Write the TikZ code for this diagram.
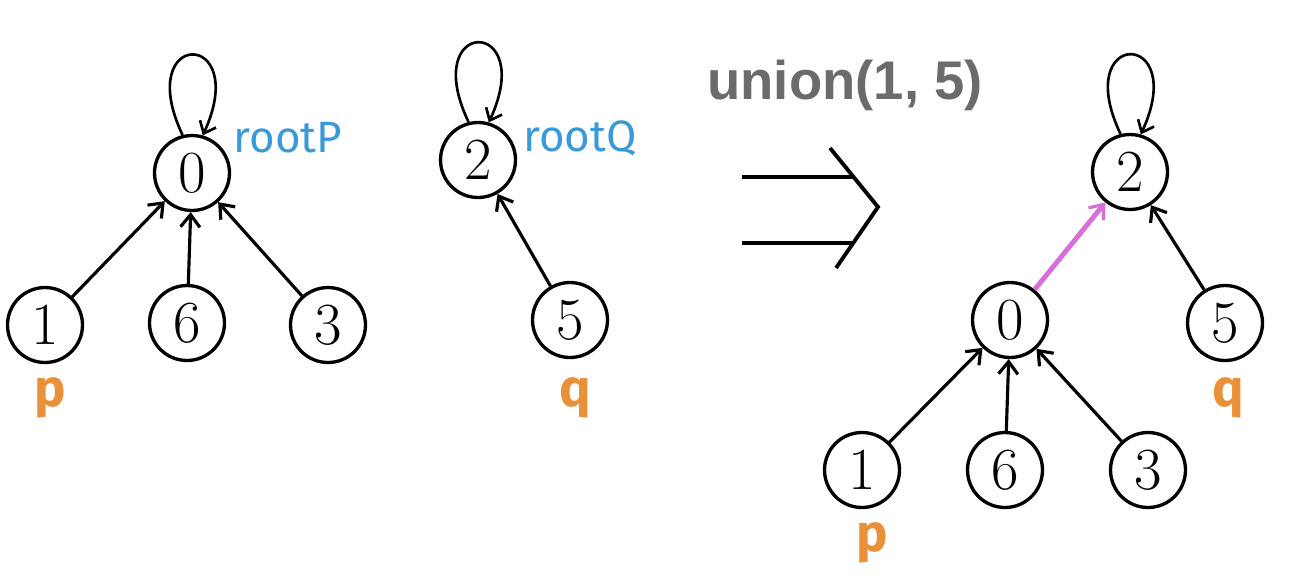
\documentclass[tikz,border=0pt]{standalone}
\usepackage{fontspec}
\usepackage{tikz}
\usetikzlibrary{arrows.meta}
\newfontfamily\labelfont{Liberation Sans}
\newfontfamily\handfont{Fira Sans}
\definecolor{rootblue}{HTML}{3A9AD9}
\definecolor{ptrorange}{HTML}{E8913A}
\definecolor{unionpink}{HTML}{D86FD8}
\definecolor{titlegray}{HTML}{6B6B6B}

\begin{document}
\begin{tikzpicture}[x=0.02cm, y=-0.02cm,
    vertex/.style={draw, circle, line width=1.9pt, minimum size=1.5cm, inner sep=0pt,
                   font=\fontsize{34}{36}\selectfont},
    edge/.style={line width=1.8pt, -{Straight Barb[length=7pt, width=11pt, line width=1.8pt]}},
    selfloop/.style={line width=1.5pt, -{Straight Barb[length=6pt, width=10pt, line width=1.5pt]}},
    rootlabel/.style={text=rootblue, font=\handfont\fontsize{25}{27}\selectfont},
    ptrlabel/.style={text=ptrorange, font=\handfont\bfseries\fontsize{30}{32}\selectfont}]
    \useasboundingbox (0,0) rectangle (1294,586);

    % First set, rooted at 0
    \node[vertex] (l0) at (192,173) {0};
    \node[vertex] (l1) at (45,325) {1};
    \node[vertex] (l6) at (187,323) {6};
    \node[vertex] (l3) at (328,325) {3};
    \draw[edge] (l1) -- (l0);
    \draw[edge] (l6) -- (l0);
    \draw[edge] (l3) -- (l0);
    \draw[selfloop] (l0.104) .. controls (132,28) and (252,28) .. (l0.74);
    \node[rootlabel] (rootP) at (288,138) {rootP};
    \node[ptrlabel] (lp) at (50,398) {p};

    % Second set, rooted at 2
    \node[vertex] (m2) at (478,160) {2};
    \node[vertex] (m5) at (570,320) {5};
    \draw[edge] (m5) -- (m2);
    \draw[selfloop] (m2.104) .. controls (418,16) and (538,16) .. (m2.74);
    \node[rootlabel] (rootQ) at (580,138) {rootQ};
    \node[ptrlabel] (mq) at (575,398) {q};

    % Operation
    \node[text=titlegray, font=\labelfont\bfseries\fontsize{31}{33}\selectfont] (op) at (845,85) {union(1, 5)};
    \coordinate (s1) at (742,177);
    \coordinate (e1) at (854,177);
    \coordinate (s2) at (742,243);
    \coordinate (e2) at (853,243);
    \draw[line width=2.2pt] (s1) -- (e1);
    \draw[line width=2.2pt] (s2) -- (e2);
    \draw[line width=2.2pt] (830,148) -- (878,207) -- (836,268);

    % Merged set
    \node[vertex] (r2) at (1130,172) {2};
    \node[vertex] (r0) at (1010,320) {0};
    \node[vertex] (r5) at (1225,323) {5};
    \node[vertex] (r1) at (862,470) {1};
    \node[vertex] (r6) at (1005,470) {6};
    \node[vertex] (r3) at (1148,470) {3};
    \draw[edge] (r1) -- (r0);
    \draw[edge] (r6) -- (r0);
    \draw[edge] (r3) -- (r0);
    \draw[edge] (r5) -- (r2);
    \draw[edge, unionpink, line width=2.8pt] (r0) -- (r2);
    \draw[selfloop] (r2.104) .. controls (1070,28) and (1190,28) .. (r2.74);
    \node[ptrlabel] (rp) at (872,543) {p};
    \node[ptrlabel] (rq) at (1228,398) {q};
\end{tikzpicture}
\end{document}
